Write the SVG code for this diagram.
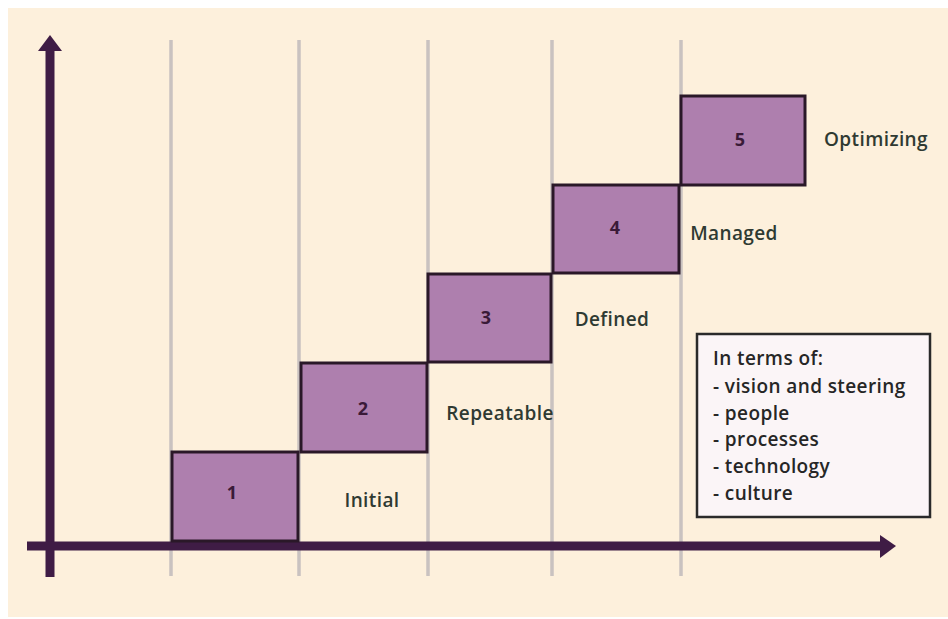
<svg xmlns="http://www.w3.org/2000/svg" width="948" height="619" viewBox="0 0 948 619">
<defs>
<style>
.grid{stroke:#c9c2c0;stroke-width:3.5;fill:none}
.axis{stroke:#3f1c45;stroke-width:9;fill:none}
.lvl{fill:#ae7fae;stroke:#2a1828;stroke-width:3}
.num{font-family:"Open Sans","DejaVu Sans",sans-serif;font-size:18px;font-weight:bold;fill:#3a1a38;text-anchor:middle}
.lab{font-family:"Open Sans","DejaVu Sans",sans-serif;font-size:19px;font-weight:600;letter-spacing:0.4px;fill:#2f3a32;text-anchor:middle}
.info{font-family:"Open Sans","DejaVu Sans",sans-serif;font-size:19px;font-weight:600;letter-spacing:0.4px;fill:#262626}
</style>
</defs>
<rect x="0" y="0" width="948" height="619" fill="#ffffff"/>
<rect x="8" y="8" width="940" height="609" fill="#fdf0dc"/>
<g id="gridlines">
<line class="grid" x1="171" y1="40" x2="171" y2="576"/>
<line class="grid" x1="299" y1="40" x2="299" y2="576"/>
<line class="grid" x1="428" y1="40" x2="428" y2="576"/>
<line class="grid" x1="552" y1="40" x2="552" y2="576"/>
<line class="grid" x1="681" y1="40" x2="681" y2="576"/>
</g>
<g id="connectors">
<line class="axis" x1="50" y1="48" x2="50" y2="577"/>
<polygon points="50,35 62,51 38,51" fill="#3f1c45"/>
<line class="axis" x1="27" y1="546" x2="882" y2="546"/>
<polygon points="896,546 880,535 880,558" fill="#3f1c45"/>
</g>
<g id="level1">
<rect class="lvl" x="172" y="452" width="126" height="89"/>
<text class="num" x="232" y="499">1</text>
<text class="lab" x="372" y="507">Initial</text>
</g>
<g id="level2">
<rect class="lvl" x="301" y="363" width="126" height="89"/>
<text class="num" x="363" y="415">2</text>
<text class="lab" x="500" y="420">Repeatable</text>
</g>
<g id="level3">
<rect class="lvl" x="428" y="274" width="123" height="88"/>
<text class="num" x="486" y="324">3</text>
<text class="lab" x="612" y="326">Defined</text>
</g>
<g id="level4">
<rect class="lvl" x="553" y="185" width="126" height="88"/>
<text class="num" x="615" y="234">4</text>
<text class="lab" x="734" y="240">Managed</text>
</g>
<g id="level5">
<rect class="lvl" x="681" y="96" width="124" height="89"/>
<text class="num" x="740" y="146">5</text>
<text class="lab" x="876" y="146">Optimizing</text>
</g>
<g id="info">
<rect x="697" y="334" width="233" height="183" fill="#fbf5f7" stroke="#2a2a2a" stroke-width="2.5"/>
<text class="info" x="713" y="365">In terms of:</text>
<text class="info" x="713" y="393">- vision and steering</text>
<text class="info" x="713" y="420">- people</text>
<text class="info" x="713" y="446">- processes</text>
<text class="info" x="713" y="473">- technology</text>
<text class="info" x="713" y="500">- culture</text>
</g>
</svg>
